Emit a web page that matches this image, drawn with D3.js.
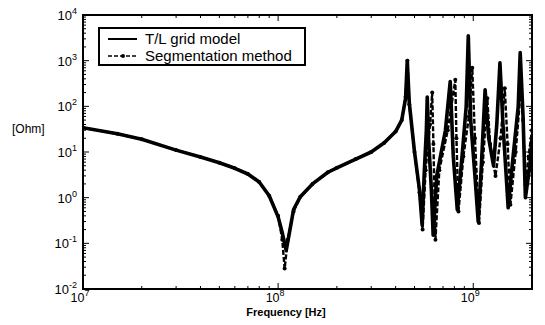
<!DOCTYPE html>
<html>
<head>
<meta charset="utf-8">
<script src="https://cdn.jsdelivr.net/npm/d3@7"></script>
<style>
  body { margin: 0; background: #fff; }
  text { font-family: "Liberation Sans", Arial, sans-serif; fill: #000; }
</style>
</head>
<body>
<svg id="chart" width="545" height="325"></svg>
<script>
// T/L grid model (solid)
const freqTL = [1e7, 1.5e7, 2e7, 3e7, 4e7, 5e7, 6e7, 7e7, 8e7, 9e7, 1e8, 1.05e8, 1.1e8, 1.15e8,
  1.2e8, 1.3e8, 1.5e8, 1.8e8, 2e8, 2.5e8, 3e8, 3.5e8, 4e8, 4.3e8, 4.5e8, 4.59e8, 4.7e8, 5e8,
  5.3e8, 5.47e8, 5.6e8, 5.75e8, 5.81e8, 5.9e8, 6.1e8, 6.23e8, 6.5e8, 7.2e8, 7.62e8, 7.9e8,
  8.28e8, 8.8e8, 9.2e8, 9.43e8, 9.7e8, 1.02e9, 1.06e9, 1.1e9, 1.15e9, 1.2e9, 1.27e9, 1.32e9,
  1.37e9, 1.42e9, 1.51e9, 1.6e9, 1.7e9, 1.74e9, 1.8e9, 1.85e9, 1.95e9, 2e9];
const zTL = [34, 25, 19, 11, 7.8, 5.8, 4.4, 3.3, 2.2, 1.1, 0.38, 0.17, 0.07, 0.2,
  0.55, 1.05, 2, 3.6, 4.5, 7, 10, 16, 28, 50, 150, 1000, 120, 10,
  1.5, 0.25, 3, 30, 160, 20, 1.5, 0.15, 3, 30, 350, 8,
  0.55, 10, 100, 3500, 50, 3, 0.3, 5, 230, 20, 5, 40,
  900, 40, 0.6, 8, 100, 1500, 60, 1, 5, 20];

// Segmentation method (dashed with markers)
const freqSeg = [1e7, 1.5e7, 2e7, 3e7, 4e7, 5e7, 6e7, 7e7, 8e7, 9e7, 1e8, 1.05e8, 1.08e8, 1.12e8,
  1.2e8, 1.3e8, 1.5e8, 1.8e8, 2e8, 2.5e8, 3e8, 3.5e8, 4e8, 4.3e8, 4.5e8, 4.6e8, 4.7e8, 5e8,
  5.3e8, 5.5e8, 5.7e8, 6e8, 6.16e8, 6.25e8, 6.4e8, 6.7e8, 7.4e8, 8.09e8, 8.2e8, 8.4e8,
  8.9e8, 9.5e8, 9.88e8, 1.02e9, 1.07e9, 1.12e9, 1.18e9, 1.22e9, 1.3e9, 1.38e9, 1.45e9, 1.5e9,
  1.55e9, 1.65e9, 1.76e9, 1.8e9, 1.85e9, 1.92e9, 2e9];
const zSeg = [34, 25, 19, 11, 7.8, 5.8, 4.4, 3.3, 2.2, 1.1, 0.4, 0.12, 0.028, 0.12,
  0.5, 1.05, 2, 3.6, 4.5, 7, 10, 16, 28, 50, 160, 1000, 110, 10,
  1.3, 0.2, 4, 40, 200, 15, 0.12, 4, 30, 380, 20, 0.5,
  8, 60, 700, 20, 0.28, 6, 150, 15, 3, 20, 250, 15,
  0.7, 10, 300, 50, 2, 8, 30];

const xTicks = [1e7, 1e8, 1e9];
const yTicks = [1e-2, 1e-1, 1e0, 1e1, 1e2, 1e3, 1e4];

const svg = d3.select("#chart");
const margin = { top: 15, right: 13, bottom: 36, left: 83 };
const width = 545 - margin.left - margin.right;
const height = 325 - margin.top - margin.bottom;

const g = svg.append("g").attr("transform", `translate(${margin.left},${margin.top})`);

const x = d3.scaleLog().domain([1e7, 2e9]).range([0, width]);
const y = d3.scaleLog().domain([1e-2, 1e4]).range([height, 0]);

g.append("clipPath").attr("id", "clip")
  .append("rect").attr("width", width).attr("height", height);

// minor + major ticks, pointing inward on all four sides
function minorTicks(scale) {
  const [a, b] = scale.domain();
  const out = [];
  for (let e = Math.floor(Math.log10(a)); e <= Math.ceil(Math.log10(b)); e++) {
    for (let m = 1; m <= 9; m++) {
      const v = m * Math.pow(10, e);
      if (v >= a && v <= b) out.push({ v, major: m === 1 });
    }
  }
  return out;
}

const tk = g.append("g").attr("stroke", "#000").attr("stroke-width", 1);
minorTicks(x).forEach(t => {
  const len = t.major ? 6 : 3;
  tk.append("line").attr("x1", x(t.v)).attr("x2", x(t.v)).attr("y1", height).attr("y2", height - len);
  tk.append("line").attr("x1", x(t.v)).attr("x2", x(t.v)).attr("y1", 0).attr("y2", len);
});
minorTicks(y).forEach(t => {
  const len = t.major ? 6 : 3;
  tk.append("line").attr("y1", y(t.v)).attr("y2", y(t.v)).attr("x1", 0).attr("x2", len);
  tk.append("line").attr("y1", y(t.v)).attr("y2", y(t.v)).attr("x1", width).attr("x2", width - len);
});

// frame
g.append("rect").attr("width", width).attr("height", height)
  .attr("fill", "none").attr("stroke", "#000").attr("stroke-width", 2);

// tick labels
function powLabel(sel, exp) {
  sel.append("tspan").text("10");
  sel.append("tspan").attr("dy", -6).attr("font-size", 9).text(exp);
}
xTicks.forEach(v => {
  const t = g.append("text").attr("x", x(v) - 3).attr("y", height + 13)
    .attr("font-size", 12.5).attr("text-anchor", "middle");
  powLabel(t, Math.round(Math.log10(v)));
});
yTicks.forEach(v => {
  const t = g.append("text").attr("x", -6).attr("y", y(v) + 5)
    .attr("font-size", 13).attr("text-anchor", "end");
  powLabel(t, Math.round(Math.log10(v)));
});

svg.append("text").attr("x", 286).attr("y", 316)
  .attr("text-anchor", "middle").attr("font-size", 11).attr("font-weight", "bold")
  .text("Frequency [Hz]");
svg.append("text").attr("x", 12).attr("y", 133)
  .attr("font-size", 12).text("[Ohm]");

// data lines
const tl = freqTL.map((f, i) => [f, zTL[i]]);
const seg = freqSeg.map((f, i) => [f, zSeg[i]]);
const line = d3.line().x(d => x(d[0])).y(d => y(d[1]));

const plot = g.append("g").attr("clip-path", "url(#clip)");
plot.append("path").datum(tl).attr("d", line)
  .attr("fill", "none").attr("stroke", "#000").attr("stroke-width", 3.6)
  .attr("stroke-linejoin", "round");
plot.append("path").datum(seg).attr("d", line)
  .attr("fill", "none").attr("stroke", "#000").attr("stroke-width", 2.4)
  .attr("stroke-dasharray", "5,2");
plot.selectAll(".mk").data(seg).enter().append("circle")
  .attr("class", "mk").attr("cx", d => x(d[0])).attr("cy", d => y(d[1]))
  .attr("r", 2).attr("fill", "#000");

// legend
const lg = svg.append("g").attr("transform", "translate(99,28)");
lg.append("rect").attr("width", 206).attr("height", 37)
  .attr("fill", "#fff").attr("stroke", "#000").attr("stroke-width", 2);
lg.append("line").attr("x1", 9).attr("x2", 38).attr("y1", 11).attr("y2", 11)
  .attr("stroke", "#000").attr("stroke-width", 2);
lg.append("line").attr("x1", 9).attr("x2", 38).attr("y1", 28).attr("y2", 28)
  .attr("stroke", "#000").attr("stroke-width", 1.5).attr("stroke-dasharray", "4,2");
lg.append("circle").attr("cx", 24).attr("cy", 28).attr("r", 2);
lg.append("text").attr("x", 46).attr("y", 16).attr("font-size", 15).text("T/L grid model");
lg.append("text").attr("x", 46).attr("y", 33).attr("font-size", 15).text("Segmentation method");
</script>
</body>
</html>
